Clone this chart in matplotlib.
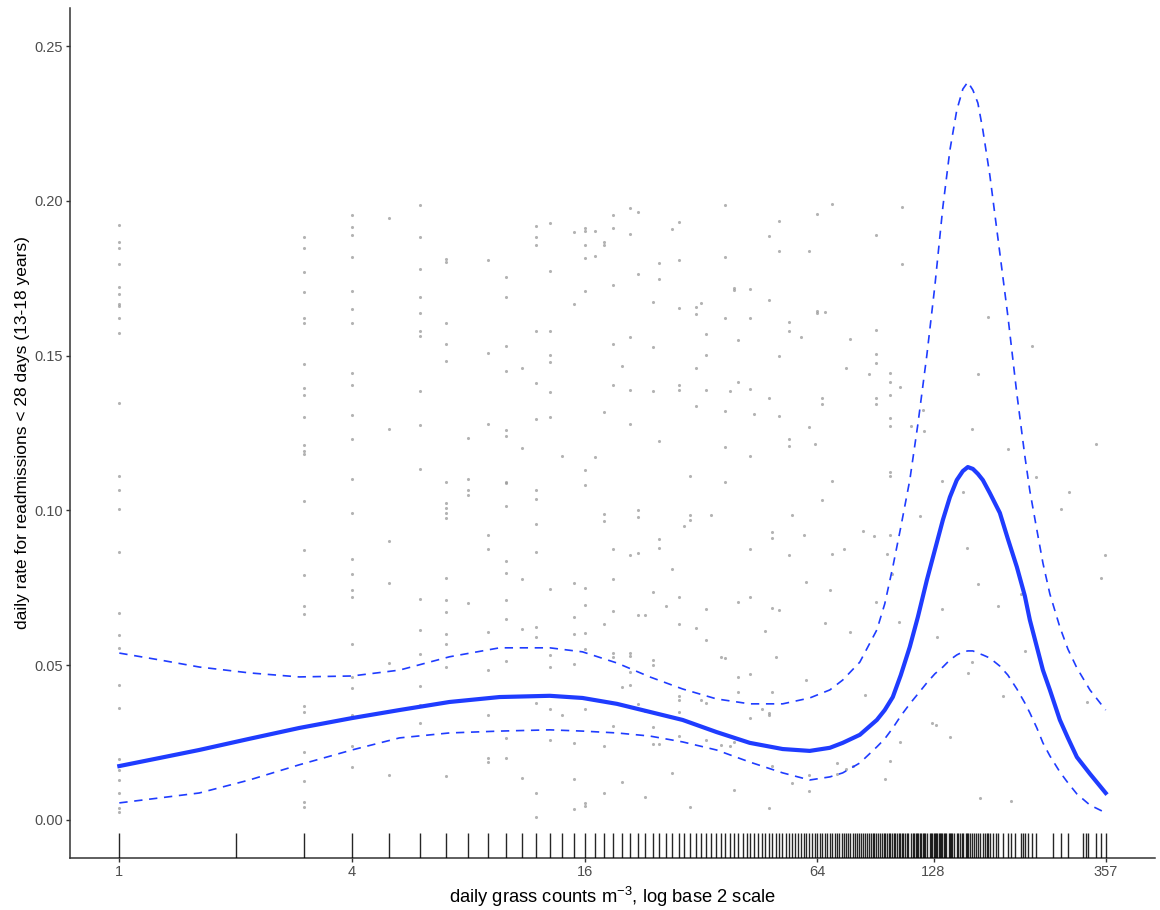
import numpy as np
import matplotlib.pyplot as plt

plt.rcParams['font.family'] = ['Liberation Sans', 'DejaVu Sans']
plt.rcParams['mathtext.fontset'] = 'custom'
plt.rcParams['mathtext.rm'] = 'Liberation Sans'
plt.rcParams['mathtext.it'] = 'Liberation Sans:italic'

# daily observations: grass count of the day, and the readmission rates seen at that count
point_counts = [1, 3, 4, 5, 6, 7, 8, 9, 10, 11, 12, 13, 14, 15, 16, 17, 18, 19, 20, 21,
                22, 23, 24, 25, 26, 27, 28, 29, 30, 31, 32, 33, 34, 36, 37, 38, 39, 40, 43, 44,
                46, 47, 48, 49, 50, 51, 54, 55, 58, 59, 60, 61, 63, 64, 66, 67, 69, 70, 72, 75,
                76, 78, 79, 84, 85, 87, 90, 91, 96, 97, 99, 100, 104, 105, 106, 112, 118, 120, 121, 127,
                130, 131, 135, 141, 153, 156, 157, 161, 167, 169, 177, 188, 194, 199, 203, 215, 221, 230, 236, 273,
                287, 319, 337, 347, 355]
point_rates = [
    [0.1922, 0.1867, 0.1848, 0.1796, 0.1722, 0.1699, 0.1667, 0.1660, 0.1621, 0.1573, 0.1347, 0.1111,
     0.1066, 0.1005, 0.0866, 0.0669, 0.0598, 0.0556, 0.0436, 0.0362, 0.0197, 0.0161, 0.0129, 0.0087,
     0.0039, 0.0026],
    [0.1883, 0.1848, 0.1770, 0.1705, 0.1621, 0.1605, 0.1473, 0.1395, 0.1373, 0.1302, 0.1211, 0.1192,
     0.1182, 0.1030, 0.0872, 0.0791, 0.0691, 0.0665, 0.0368, 0.0349, 0.0220, 0.0126, 0.0058, 0.0042],
    [0.1954, 0.1915, 0.1890, 0.1818, 0.1709, 0.1651, 0.1605, 0.1444, 0.1405, 0.1308, 0.1231, 0.1101,
     0.0992, 0.0843, 0.0795, 0.0743, 0.0720, 0.0568, 0.0462, 0.0426, 0.0339, 0.0239, 0.0171],
    [0.1944, 0.1263, 0.0901, 0.0765, 0.0507, 0.0145],
    [0.1986, 0.1883, 0.1780, 0.1689, 0.1638, 0.1579, 0.1563, 0.1386, 0.1276, 0.1134, 0.0714, 0.0614,
     0.0536, 0.0433, 0.0371, 0.0313],
    [0.1812, 0.1802, 0.1605, 0.1537, 0.1483, 0.1092, 0.1024, 0.1008, 0.0992, 0.0975, 0.0782, 0.0711,
     0.0672, 0.0601, 0.0568, 0.0494, 0.0142],
    [0.1234, 0.1101, 0.1066, 0.1050, 0.0701],
    [0.1809, 0.1508, 0.1279, 0.0921, 0.0875, 0.0607, 0.0485, 0.0339, 0.0200, 0.0187],
    [0.1754, 0.1689, 0.1531, 0.1450, 0.1260, 0.1240, 0.1092, 0.1089, 0.1014, 0.0837, 0.0798, 0.0711,
     0.0649, 0.0514, 0.0265, 0.0200],
    [0.1460, 0.1202, 0.0778, 0.0617, 0.0136],
    [0.1919, 0.1883, 0.1857, 0.1579, 0.1411, 0.1295, 0.1066, 0.1037, 0.0956, 0.0866, 0.0623, 0.0591,
     0.0378, 0.0087, 0.0010],
    [0.1928, 0.1773, 0.1579, 0.1502, 0.1479, 0.1382, 0.1302, 0.0746, 0.0533, 0.0494, 0.0359, 0.0258],
    [0.1176, 0.0339],
    [0.1899, 0.1667, 0.0766, 0.0656, 0.0601, 0.0504, 0.0249, 0.0132, 0.0036],
    [0.1912, 0.1902, 0.1857, 0.1815, 0.1709, 0.1130, 0.1082, 0.0749, 0.0694, 0.0604, 0.0552, 0.0359,
     0.0055, 0.0045],
    [0.1902, 0.1822, 0.1172],
    [0.1867, 0.1857, 0.1318, 0.0988, 0.0966, 0.0633, 0.0239, 0.0087],
    [0.1954, 0.1912, 0.1728, 0.1537, 0.1405, 0.0875, 0.0778, 0.0675, 0.0539, 0.0526, 0.0304],
    [0.1466, 0.0430, 0.0123],
    [0.1977, 0.1893, 0.1560, 0.1389, 0.1279, 0.0856, 0.0539, 0.0530, 0.0478, 0.0436],
    [0.1964, 0.1764, 0.1001, 0.0979, 0.0862, 0.0662, 0.0375],
    [0.0662, 0.0352, 0.0074],
    [0.1673, 0.1528, 0.1386, 0.0736, 0.0517, 0.0501, 0.0300, 0.0245],
    [0.1799, 0.1747, 0.1224, 0.0908, 0.0879, 0.0245],
    [0.0691],
    [0.1909, 0.0811, 0.0152],
    [0.1932, 0.1809, 0.1654, 0.1405, 0.1389, 0.0720, 0.0633, 0.0401, 0.0388, 0.0349, 0.0271],
    [0.0950],
    [0.1111, 0.0985, 0.0969, 0.0042],
    [0.1657, 0.1634, 0.1460, 0.1337, 0.0620],
    [0.1670, 0.0388],
    [0.1570, 0.1502, 0.1389, 0.0682, 0.0581, 0.0378, 0.0258],
    [0.0985],
    [0.0526, 0.0242],
    [0.1986, 0.1818, 0.1621, 0.1321, 0.1205, 0.1092, 0.0523],
    [0.1386, 0.0239],
    [0.1718, 0.1712, 0.0252, 0.0097],
    [0.1550, 0.1415, 0.0704, 0.0462, 0.0413],
    [0.1715, 0.1621, 0.1392, 0.1176, 0.0875, 0.0720, 0.0472, 0.0329],
    [0.1311],
    [0.0359],
    [0.0610],
    [0.1886, 0.1680, 0.1363, 0.0346, 0.0339, 0.0039],
    [0.0930, 0.0911, 0.0685, 0.0413, 0.0174],
    [0.0526],
    [0.1935, 0.1838, 0.1499, 0.1305, 0.0678],
    [0.1609, 0.1579, 0.1231, 0.1208, 0.0856],
    [0.0985, 0.0120],
    [0.1560],
    [0.0921],
    [0.0769, 0.0452],
    [0.1838, 0.1269, 0.0145, 0.0094],
    [0.1214],
    [0.1957, 0.1644, 0.1638],
    [0.1363, 0.1344, 0.1034],
    [0.1641, 0.0636],
    [0.0743],
    [0.1990, 0.1095, 0.0859],
    [0.0184, 0.0149],
    [0.0875],
    [0.1460, 0.0165],
    [0.1554, 0.0607],
    [0.0174],
    [0.0933],
    [0.0404],
    [0.1441],
    [0.0917],
    [0.1890, 0.1583, 0.1505, 0.1476, 0.1363, 0.1344, 0.0704],
    [0.0132],
    [0.0859],
    [0.1444, 0.1415, 0.1373, 0.1298, 0.1273, 0.1124, 0.1111, 0.0921, 0.0191],
    [0.0795],
    [0.0640],
    [0.1399, 0.0252],
    [0.1980, 0.1796],
    [0.1273],
    [0.0982],
    [0.1324],
    [0.1256],
    [0.0313],
    [0.0307],
    [0.0591],
    [0.1095, 0.0682],
    [0.0268],
    [0.1059],
    [0.0879],
    [0.0475],
    [0.1263, 0.0510],
    [0.1441, 0.0762],
    [0.0071],
    [0.1625],
    [0.0691],
    [0.0401],
    [0.1198],
    [0.0061],
    [0.0730],
    [0.0546],
    [0.1531],
    [0.1108],
    [0.1005],
    [0.1059],
    [0.0381],
    [0.1214],
    [0.0782],
    [0.0856],
]

# every day's grass count, shown as a rug
rug_counts = [1, 2, 3, 4, 5, 6, 7, 8, 9, 10, 11, 12, 13, 14, 15, 16, 17, 18, 19, 20,
              21, 22, 23, 24, 25, 26, 27, 28, 29, 30, 31, 32, 33, 34, 35, 36, 37, 38, 39, 40,
              41, 42, 43, 44, 45, 46, 47, 48, 49, 50, 51, 52, 53, 54, 55, 56, 57, 58, 59, 60,
              61, 62, 63, 64, 65, 66, 67, 68, 69, 70, 71, 72, 73, 74, 75, 76, 77, 78, 79, 80,
              81, 82, 83, 84, 85, 86, 87, 88, 89, 90, 91, 92, 93, 94, 95, 96, 97, 98, 99, 100,
              101, 102, 103, 104, 105, 106, 107, 108, 109, 110, 112, 113, 114, 115, 116, 117, 118,
              119, 120, 121, 122, 123, 125, 126, 127, 128, 129, 130, 131, 132, 133, 134, 135, 136,
              137, 138, 140, 141, 142, 143, 145, 147, 148, 150, 152, 153, 155, 156, 157, 159, 161,
              163, 165, 167, 169, 172, 174, 176, 177, 179, 182, 186, 188, 194, 199, 203, 208, 215,
              218, 221, 225, 230, 236, 261, 273, 286, 311, 317, 321, 337, 347, 357]

# smooth fit and its 95% band, evaluated along the grass count range
fit_counts = [1, 1.27, 1.61, 2.17, 2.92, 4, 5.31, 7.15, 9.64, 13, 15.8, 19.4, 23.6, 28.7,
              35.1, 42.8, 52.1, 61.2, 69, 74.5, 82.5, 91.3, 95.7, 100.4, 105.3, 111.1, 116.6,
              123, 129, 135.3, 141.1, 147, 152.4, 157, 161.8, 166.7, 171.7, 179, 190, 199.3,
              210.3, 220.5, 227.2, 236.9, 245.6, 256, 271.7, 285, 300.7, 325, 357]
fit_rate = [0.0174, 0.0200, 0.0226, 0.0262, 0.0297, 0.0329, 0.0355, 0.0381, 0.0397, 0.0401,
            0.0394, 0.0375, 0.0349, 0.0323, 0.0284, 0.0249, 0.0229, 0.0223, 0.0233, 0.0249,
            0.0275, 0.0323, 0.0355, 0.0397, 0.0468, 0.0559, 0.0656, 0.0775, 0.0872, 0.0969,
            0.1043, 0.1098, 0.1127, 0.1140, 0.1134, 0.1118, 0.1098, 0.1056, 0.0992, 0.0908,
            0.0817, 0.0724, 0.0646, 0.0559, 0.0484, 0.0420, 0.0323, 0.0265, 0.0203, 0.0149,
            0.0087]
fit_upper = [0.0539, 0.0517, 0.0494, 0.0475, 0.0462, 0.0465, 0.0484, 0.0527, 0.0556, 0.0556,
             0.0543, 0.0507, 0.0462, 0.0423, 0.0391, 0.0375, 0.0375, 0.0394, 0.0420, 0.0452,
             0.0510, 0.0614, 0.0698, 0.0817, 0.0946, 0.1098, 0.1279, 0.1502, 0.1725, 0.1980,
             0.2164, 0.2293, 0.2361, 0.2384, 0.2358, 0.2316, 0.2229, 0.2083, 0.1831, 0.1628,
             0.1376, 0.1176, 0.1063, 0.0937, 0.0830, 0.0730, 0.0623, 0.0552, 0.0491, 0.0420,
             0.0355]
fit_lower = [0.0055, 0.0071, 0.0087, 0.0129, 0.0178, 0.0226, 0.0265, 0.0281, 0.0287, 0.0291,
             0.0287, 0.0281, 0.0271, 0.0252, 0.0226, 0.0187, 0.0152, 0.0129, 0.0139, 0.0152,
             0.0184, 0.0236, 0.0262, 0.0297, 0.0336, 0.0375, 0.0407, 0.0443, 0.0472, 0.0494,
             0.0517, 0.0533, 0.0543, 0.0546, 0.0546, 0.0539, 0.0533, 0.0523, 0.0497, 0.0468,
             0.0423, 0.0378, 0.0346, 0.0297, 0.0249, 0.0207, 0.0155, 0.0120, 0.0084, 0.0048,
             0.0023]

x_ticks = [1, 4, 16, 64, 128, 357]
y_ticks = [0.00, 0.05, 0.10, 0.15, 0.20, 0.25]

px, py = [], []
for c, rates in zip(point_counts, point_rates):
    px += [c] * len(rates)
    py += rates

fig = plt.figure(figsize=(11.6, 9.1), dpi=100)
ax = fig.add_axes([70 / 1160, 52 / 910, 1085 / 1160, 850 / 910])

ax.scatter(px, py, s=5, c='#9a9a9a', alpha=0.75, linewidths=0, zorder=2)

# rug along the bottom of the panel
ax.vlines(rug_counts, 0, 0.03, transform=ax.get_xaxis_transform(),
          colors='black', linewidth=1.0, alpha=0.85, zorder=3)

blue = '#1f3cff'
ax.plot(fit_counts, fit_rate, color=blue, lw=3.0, solid_joinstyle='round', zorder=4)
ax.plot(fit_counts, fit_upper, color=blue, lw=1.2, dashes=(5, 4), zorder=4)
ax.plot(fit_counts, fit_lower, color=blue, lw=1.2, dashes=(5, 4), zorder=4)

ax.set_xscale('log', base=2)
lo, hi = np.log2(1), np.log2(357)
pad = 0.05 * (hi - lo)
ax.set_xlim(2 ** (lo - pad), 2 ** (hi + pad))
ax.set_ylim(-0.0123, 0.2623)

ax.set_xticks(x_ticks)
ax.set_xticklabels([str(t) for t in x_ticks])
ax.xaxis.set_minor_locator(plt.NullLocator())
ax.set_yticks(y_ticks)
ax.set_yticklabels([f'{t:.2f}' for t in y_ticks])

for side in ['top', 'right']:
    ax.spines[side].set_visible(False)
for side in ['left', 'bottom']:
    ax.spines[side].set_color('#333333')
    ax.spines[side].set_linewidth(1.1)
ax.tick_params(length=3.2, width=1.0, color='#333333', labelcolor='#4d4d4d',
               labelsize=10.5, pad=2)

ax.set_xlabel('daily grass counts m$^{-3}$, log base 2 scale', fontsize=13.2, labelpad=4)
ax.set_ylabel('daily rate for readmissions < 28 days (13-18 years)', fontsize=12.5, labelpad=3)

fig.savefig('out.png', dpi=100)
